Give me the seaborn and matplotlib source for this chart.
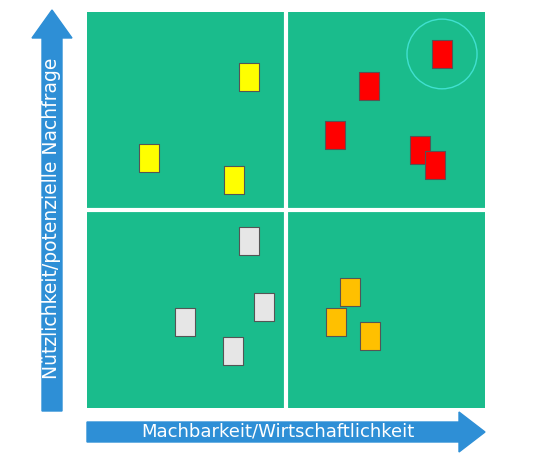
import numpy as np
import pandas as pd
import seaborn as sns
import matplotlib.pyplot as plt
from matplotlib.patches import FancyArrow, Circle
from matplotlib.transforms import IdentityTransform

# Werte (0-10 Skala)
gruppe = ["gelb"] * 3 + ["rot"] * 5 + ["grau"] * 4 + ["orange"] * 3
machbarkeit = [4.07, 1.56, 3.69, 8.92, 7.09, 6.23, 8.37, 8.74, 4.07, 4.45, 2.46, 3.67, 6.61, 6.26, 7.11]
nutzen = [8.36, 6.31, 5.76, 8.94, 8.13, 6.89, 6.52, 6.14, 4.22, 2.55, 2.17, 1.44, 2.93, 2.17, 1.82]
farben = {"gelb": "#ffff00", "rot": "#ff0000", "grau": "#e6e6e6", "orange": "#ffc000"}

df = pd.DataFrame({"x": machbarkeit, "y": nutzen, "g": gruppe})

sns.set_style("white")
fig = plt.figure(figsize=(5.4, 4.63), dpi=100)
ax = fig.add_axes([87 / 540, 55 / 463, 398 / 540, 396 / 463])
ax.set_facecolor("#1abc8c")

rect = [(-0.72, -1), (0.72, -1), (0.72, 1), (-0.72, 1), (-0.72, -1)]
sns.scatterplot(data=df, x="x", y="y", hue="g", palette=farben, marker=rect,
                s=420, edgecolor="#555555", linewidth=0.8, legend=False, ax=ax)

ax.axvline(5, color="white", lw=3)
ax.axhline(5, color="white", lw=3)
ax.add_patch(Circle((8.92, 8.94), 0.88, fill=False, ec="#40e0d0", lw=1))

ax.set_xlim(0, 10)
ax.set_ylim(0, 10)
ax.set_xticks([])
ax.set_yticks([])
ax.set_xlabel("")
ax.set_ylabel("")
for s in ax.spines.values():
    s.set_visible(False)

blau = "#2e8fd6"
fig.patches.append(FancyArrow(52, 52, 0, 401, width=20, head_width=40, head_length=28,
                              length_includes_head=True, color=blau, transform=IdentityTransform()))
fig.patches.append(FancyArrow(87, 31, 398, 0, width=20, head_width=40, head_length=26,
                              length_includes_head=True, color=blau, transform=IdentityTransform()))
fig.text(52 / 540, 245 / 463, "Nützlichkeit/potenzielle Nachfrage", rotation=90, color="white",
         fontsize=13.5, ha="center", va="center")
fig.text(278 / 540, 31 / 463, "Machbarkeit/Wirtschaftlichkeit", color="white",
         fontsize=13, ha="center", va="center")

fig.savefig("out.png", dpi=100)
